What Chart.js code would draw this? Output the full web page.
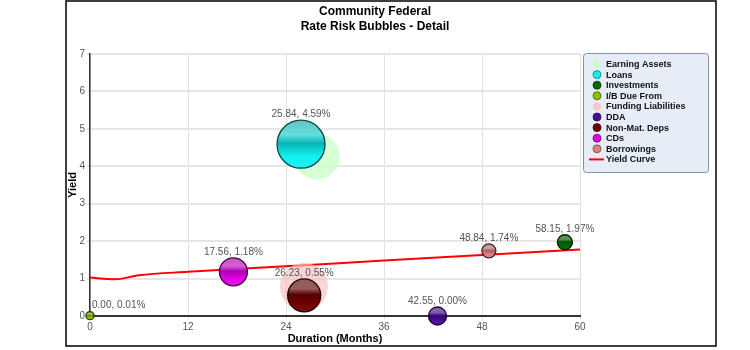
<!DOCTYPE html>
<html>
<head>
<meta charset="utf-8">
<title>Rate Risk Bubbles - Detail</title>
<script src="https://cdn.jsdelivr.net/npm/chart.js@4"></script>
<style>
  html, body { margin: 0; padding: 0; background: #fff; }
  #wrap { position: relative; width: 750px; height: 350px; }
</style>
</head>
<body>
<div id="wrap"><canvas id="rateRiskChart" width="750" height="350"></canvas></div>
<script>
// Bubble data, one entry per category
const categories = ['Earning Assets', 'Loans', 'Investments', 'I/B Due From', 'Funding Liabilities', 'DDA', 'Non-Mat. Deps', 'CDs', 'Borrowings'];
const durations = [27.76, 25.84, 58.15, 0.00, 26.20, 42.55, 26.23, 17.56, 48.84];
const yields = [4.26, 4.59, 1.97, 0.01, 0.78, 0.00, 0.55, 1.18, 1.74];
const sizes = [23, 24, 7.5, 4, 24, 9, 16.5, 14, 7];
const labelled = [false, true, true, true, false, true, true, true, true];
const colors = ['#c8ffc8', '#10f0f0', '#006a00', '#8cc000', '#f8c4c4', '#4a0a9a', '#700000', '#e600e6', '#e08080'];

// Yield curve
const curveMonths = [0, 3, 6, 12, 24, 36, 48, 60];
const curveYields = [1.03, 0.98, 1.09, 1.18, 1.33, 1.48, 1.63, 1.78];

const xTickStep = 12;
const yTickStep = 1;

const FONT = '"Liberation Sans", Arial, sans-serif';

function hexRgb(h) {
  const n = parseInt(h.slice(1), 16);
  return [(n >> 16) & 255, (n >> 8) & 255, n & 255];
}
function mix(h, other, t) {
  const a = hexRgb(h), b = hexRgb(other);
  return 'rgb(' + a.map((v, i) => Math.round(v * (1 - t) + b[i] * t)).join(',') + ')';
}

// glossy fill for the solid bubbles
function glossFill(i) {
  return (ctx) => {
    const chart = ctx.chart;
    if (!chart.chartArea || !ctx.parsed) return colors[i];
    const y = chart.scales.y.getPixelForValue(ctx.parsed.y);
    const r = sizes[i];
    const g = chart.ctx.createLinearGradient(0, y - r, 0, y + r);
    g.addColorStop(0, mix(colors[i], '#a0a0a0', 0.6));
    g.addColorStop(0.3, mix(colors[i], '#c8c8c8', 0.45));
    g.addColorStop(0.48, mix(colors[i], '#000000', 0.25));
    g.addColorStop(0.75, colors[i]);
    g.addColorStop(1, mix(colors[i], '#ffffff', 0.08));
    return g;
  };
}

const flat = [0, 4];

const datasets = categories.map((name, i) => {
  const isFlat = flat.includes(i);
  return {
    label: name,
    data: [{ x: durations[i], y: yields[i], r: sizes[i] }],
    backgroundColor: isFlat ? (i === 0 ? 'rgba(200,255,200,0.75)' : 'rgba(248,190,190,0.65)') : glossFill(i),
    borderColor: isFlat ? 'rgba(0,0,0,0)' : mix(colors[i], '#000000', 0.7),
    borderWidth: isFlat ? 0 : 1.3,
    hoverRadius: 0,
    order: isFlat ? 5 : 1,
    clip: false
  };
});

datasets.push({
  type: 'line',
  label: 'Yield Curve',
  data: curveMonths.map((m, i) => ({ x: m, y: curveYields[i] })),
  borderColor: '#ff0000',
  borderWidth: 2,
  pointRadius: 0,
  fill: false,
  cubicInterpolationMode: 'monotone',
  order: 10
});

const chrome = {
  id: 'chrome',
  afterDatasetsDraw(chart) {
    const ctx = chart.ctx;
    const xs = chart.scales.x, ys = chart.scales.y;
    ctx.save();
    ctx.font = '10px ' + FONT;
    ctx.fillStyle = '#555';
    ctx.textAlign = 'center';
    ctx.textBaseline = 'bottom';
    categories.forEach((name, i) => {
      if (!labelled[i]) return;
      const txt = durations[i].toFixed(2) + ', ' + yields[i].toFixed(2) + '%';
      const w = ctx.measureText(txt).width;
      let px = xs.getPixelForValue(durations[i]);
      const py = ys.getPixelForValue(yields[i]) - sizes[i] - 1;
      px = Math.max(px, chart.chartArea.left + 2 + w / 2);
      ctx.fillText(txt, px, py);
    });
    ctx.restore();
  },
  afterDraw(chart) {
    const ctx = chart.ctx;
    ctx.save();
    // frame
    ctx.strokeStyle = '#000';
    ctx.lineWidth = 1.5;
    ctx.strokeRect(66, 1, 650, 345);

    // title
    ctx.fillStyle = '#000';
    ctx.textAlign = 'center';
    ctx.textBaseline = 'middle';
    ctx.font = 'bold 12px ' + FONT;
    ctx.fillText('Community Federal', 375, 12);
    ctx.fillText('Rate Risk Bubbles - Detail', 375, 27);

    // legend
    const lx = 583, ly = 53, lw = 125, lh = 119;
    ctx.beginPath();
    ctx.roundRect(lx + 0.5, ly + 0.5, lw, lh, 3);
    ctx.fillStyle = '#e6edf6';
    ctx.fill();
    ctx.strokeStyle = '#8592a4';
    ctx.lineWidth = 1;
    ctx.stroke();

    ctx.font = 'bold 9px ' + FONT;
    ctx.textAlign = 'left';
    const rowH = 10.6;
    categories.forEach((name, i) => {
      const cy = ly + 11 + i * rowH;
      ctx.beginPath();
      ctx.arc(lx + 14, cy, 4, 0, Math.PI * 2);
      ctx.fillStyle = colors[i];
      ctx.fill();
      if (!flat.includes(i)) {
        ctx.strokeStyle = mix(colors[i], '#000000', 0.5);
        ctx.lineWidth = 0.8;
        ctx.stroke();
      }
      ctx.fillStyle = '#111';
      ctx.fillText(name, lx + 23, cy + 0.5);
    });
    const cy = ly + 11 + categories.length * rowH;
    ctx.beginPath();
    ctx.moveTo(lx + 6, cy);
    ctx.lineTo(lx + 21, cy);
    ctx.strokeStyle = '#ff0000';
    ctx.lineWidth = 2;
    ctx.stroke();
    ctx.fillStyle = '#111';
    ctx.fillText('Yield Curve', lx + 23, cy + 0.5);
    ctx.restore();
  }
};

new Chart(document.getElementById('rateRiskChart'), {
  type: 'bubble',
  data: { datasets },
  options: {
    responsive: false,
    animation: false,
    layout: { padding: { left: 62, right: 170, top: 54, bottom: 4 } },
    plugins: {
      legend: { display: false },
      tooltip: { enabled: false },
      title: { display: false }
    },
    scales: {
      x: {
        type: 'linear',
        min: 0,
        max: 60,
        afterFit: (s) => { s.height = 30; },
        ticks: { stepSize: xTickStep, color: '#555', font: { family: FONT, size: 10 }, padding: 2 },
        grid: { color: '#e0e0e0', lineWidth: 1, tickLength: 3 },
        border: { color: '#333', width: 2 },
        title: { display: true, text: 'Duration (Months)', color: '#000', font: { family: FONT, size: 11, weight: 'bold' }, padding: 0 }
      },
      y: {
        type: 'linear',
        min: 0,
        max: 7,
        afterFit: (s) => { s.width = 28; },
        ticks: { stepSize: yTickStep, color: '#555', font: { family: FONT, size: 10 }, padding: 2 },
        grid: { color: '#e6e6e6', lineWidth: 2, tickLength: 3 },
        border: { color: '#333', width: 1.5 },
        title: { display: true, text: 'Yield', color: '#000', font: { family: FONT, size: 11, weight: 'bold' }, padding: { top: 4, bottom: 0 } }
      }
    }
  },
  plugins: [chrome]
});
</script>
</body>
</html>
